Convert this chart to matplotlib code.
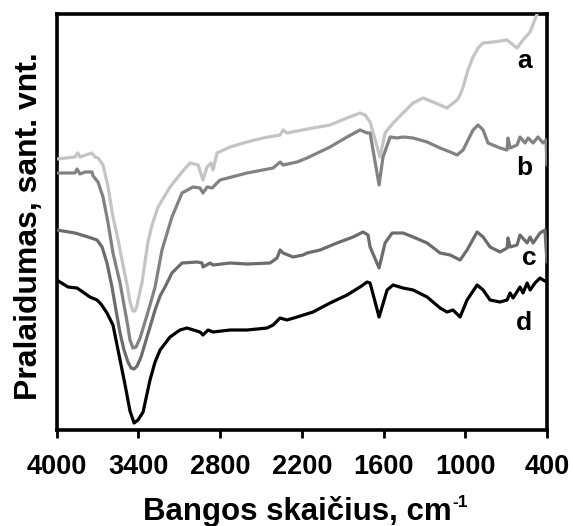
import matplotlib
matplotlib.use("Agg")
import matplotlib.pyplot as plt

plt.rcParams['font.family'] = ['Liberation Sans', 'DejaVu Sans']

# FTIR spectra: wavenumber (cm-1) and transmittance (arbitrary units, offset)
wn_a = [4000, 3866, 3846, 3829, 3743, 3719, 3697, 3660, 3623, 3587, 3557, 3535,
        3506, 3483, 3469, 3454, 3440, 3425, 3410, 3396, 3374, 3352, 3330, 3300,
        3256, 3168, 3080, 3021, 2962, 2926, 2896, 2867, 2852, 2823, 2727, 2602,
        2485, 2360, 2338, 2309, 2118, 1993, 1868, 1773, 1736, 1699, 1626, 1589,
        1530, 1457, 1383, 1310, 1237, 1134, 1060, 1038, 1016, 980, 943, 906, 869,
        796, 693, 620, 576, 524, 473, 455]
t_a = [67.75, 68.25, 69.3, 68.25, 69.25, 68.25, 68.0, 66.25, 60.75, 53.25, 48.75, 45.0,
       40.0, 36.25, 33.25, 31.0, 29.75, 29.75, 31.25, 33.5, 36.75, 42.0, 47.0, 51.25,
       55.75, 60.75, 64.5, 66.75, 66.25, 62.5, 65.75, 66.75, 65.0, 69.25, 70.75, 72.0,
       73.0, 73.75, 75.0, 74.25, 75.5, 76.25, 78.0, 79.25, 78.75, 77.0, 68.25, 74.25,
       76.75, 79.25, 81.75, 83.0, 82.0, 80.5, 82.5, 83.75, 85.75, 90.0, 93.25, 95.5, 96.75,
       97.0, 97.5, 95.5, 97.5, 99.5, 104.0, 107.0]

wn_b = [4000, 3866, 3851, 3829, 3792, 3741, 3733, 3697, 3660, 3623, 3587, 3535,
        3506, 3483, 3462, 3440, 3418, 3388, 3352, 3315, 3278, 3227, 3154, 3080,
        3000, 2948, 2926, 2896, 2859, 2801, 2602, 2411, 2360, 2338, 2235, 2162,
        1993, 1868, 1773, 1721, 1699, 1633, 1604, 1552, 1501, 1457, 1383, 1280,
        1185, 1111, 1060, 1016, 943, 906, 869, 833, 745, 693, 686, 671, 620, 598,
        561, 539, 502, 466, 429, 407, 400]
t_b = [64.25, 64.25, 65.25, 64.0, 64.5, 64.5, 63.5, 62.0, 58.25, 51.75, 44.25, 36.75,
       31.25, 27.0, 22.5, 20.5, 20.75, 23.0, 27.0, 31.25, 35.75, 45.0, 53.25, 59.25,
       60.75, 60.5, 59.25, 60.75, 60.5, 62.5, 64.25, 65.5, 67.0, 66.25, 67.0, 68.0,
       70.75, 73.25, 75.0, 74.25, 74.25, 61.25, 68.25, 73.25, 73.0, 73.25, 73.0, 72.0,
       70.5, 69.5, 68.75, 70.0, 75.0, 76.25, 75.0, 71.75, 70.5, 70.0, 73.0, 70.5, 71.25, 73.25,
       71.75, 73.0, 71.75, 73.25, 71.75, 72.5, 66.25]

wn_c = [4000, 3866, 3770, 3704, 3667, 3631, 3594, 3565, 3535, 3506, 3477, 3454,
        3432, 3410, 3381, 3344, 3315, 3278, 3241, 3205, 3154, 3080, 2970, 2933,
        2926, 2874, 2852, 2727, 2602, 2433, 2382, 2360, 2338, 2265, 2191, 2162,
        2066, 1942, 1824, 1751, 1714, 1699, 1633, 1589, 1537, 1457, 1383, 1280,
        1185, 1111, 1038, 987, 913, 869, 818, 745, 693, 686, 671, 620, 598, 546,
        524, 502, 451, 415, 400]
t_c = [50.0, 49.25, 48.25, 47.5, 45.75, 41.75, 35.75, 30.0, 24.25, 20.0, 17.0, 15.5,
       15.25, 16.0, 18.25, 22.5, 25.75, 30.0, 33.5, 35.75, 39.25, 41.75, 42.0, 41.75,
       40.75, 41.75, 41.25, 41.75, 41.5, 41.75, 43.0, 45.0, 44.25, 43.25, 43.75, 44.25,
       45.0, 46.75, 48.25, 49.5, 48.75, 45.75, 40.5, 46.75, 49.25, 49.25, 48.25, 46.75,
       44.25, 43.75, 42.5, 45.0, 49.5, 48.25, 45.75, 44.5, 45.5, 48.0, 45.75, 46.25, 48.75, 46.75,
       48.25, 46.75, 49.25, 50.0, 42.0]

wn_d = [4000, 3917, 3851, 3756, 3704, 3675, 3631, 3587, 3535, 3498, 3462, 3432,
        3403, 3366, 3315, 3278, 3241, 3168, 3095, 3043, 2948, 2926, 2889, 2852,
        2727, 2602, 2455, 2411, 2360, 2309, 2235, 2118, 1993, 1868, 1773, 1721,
        1699, 1633, 1574, 1530, 1457, 1383, 1280, 1185, 1134, 1090, 1038, 987,
        913, 869, 818, 745, 693, 671, 649, 598, 576, 546, 524, 488, 451, 429, 400]
t_d = [37.5, 35.75, 35.5, 33.25, 32.5, 31.5, 29.25, 26.25, 17.5, 11.25, 4.75, 1.75,
       2.5, 4.5, 12.5, 17.0, 20.0, 23.25, 25.0, 25.5, 24.5, 23.75, 25.0, 24.5,
       25.0, 25.0, 25.5, 26.25, 28.0, 27.5, 28.25, 29.5, 31.75, 33.75, 35.75, 37.0,
       36.75, 28.25, 35.0, 36.25, 35.5, 35.0, 33.25, 30.5, 29.5, 30.0, 28.25, 32.5,
       36.25, 35.0, 32.5, 32.0, 32.5, 34.25, 33.0, 35.75, 34.25, 36.75, 35.0, 36.75, 38.0, 37.5, 37.0]

series_names = ["a", "b", "c", "d"]
series_colors = ["#c4c4c4", "#828282", "#6c6c6c", "#000000"]
label_wn = [568, 568, 531, 568]
label_t = [90.5, 63.75, 41.25, 25.0]

x_ticks = [4000, 3400, 2800, 2200, 1600, 1000, 400]

fig = plt.figure(figsize=(5.73, 5.26), dpi=100)
ax = fig.add_axes([0.099, 0.1825, 0.8556, 0.7909])

for wn, t, col in zip([wn_a, wn_b, wn_c, wn_d], [t_a, t_b, t_c, t_d], series_colors):
    ax.plot(wn, t, color=col, lw=2.3, solid_joinstyle='round',
            solid_capstyle='round', zorder=3)

for name, x, y in zip(series_names, label_wn, label_t):
    ax.text(x, y, name, ha='center', va='baseline', fontsize=19,
            fontweight='bold', color='black', zorder=4)

ax.set_xlim(4000, 400)
ax.set_ylim(0, 104)
ax.set_xticks(x_ticks)
ax.set_xticklabels([str(v) for v in x_ticks], fontsize=19.5, fontweight='bold')
ax.set_yticks([])
ax.tick_params(axis='x', direction='out', length=6, width=2, pad=11.5)
for s in ax.spines.values():
    s.set_linewidth(2.6)
    s.set_zorder(2.5)

ax.set_xlabel("Bangos skaičius, cm", fontsize=22.5, fontweight='bold')
ax.xaxis.label.set_va('baseline')
ax.xaxis.set_label_coords(0.491, -0.2163)

ax.set_ylabel("Pralaidumas, sant. vnt.", fontsize=23, fontweight='bold')
ax.yaxis.set_label_coords(-0.026, 0.49)

# superscript exponent of the unit, placed right after the x label
fig.canvas.draw()
bb = ax.xaxis.label.get_window_extent()
fig.text((bb.x1 + 1) / fig.bbox.width, 19 / fig.bbox.height, "-1",
         fontsize=12.5, fontweight='bold', ha='left', va='baseline')

fig.savefig("out.png", dpi=100)
